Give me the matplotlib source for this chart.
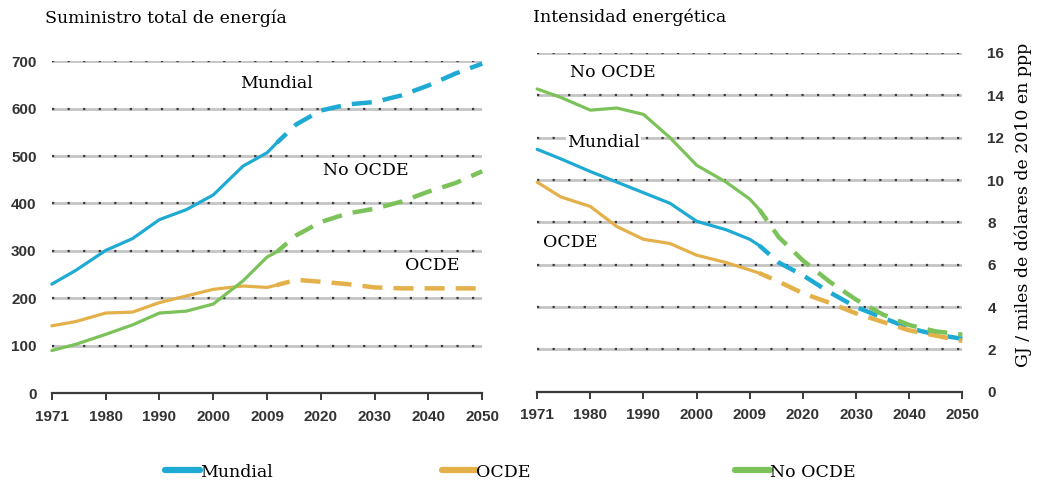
import numpy as np
import matplotlib
matplotlib.use("Agg")
import matplotlib.pyplot as plt
from matplotlib.lines import Line2D

# x axis is categorical: equally spaced labels
tick_years = [1971, 1980, 1990, 2000, 2009, 2020, 2030, 2040, 2050]
tick_labels = [str(y) for y in tick_years]

hist_years = [1971, 1975, 1980, 1985, 1990, 1995, 2000, 2005, 2009, 2011]
proj_years = [2011, 2015, 2020, 2025, 2030, 2035, 2040, 2045, 2050]

# Suministro total de energia
supply_mundial_hist = [230, 259, 301, 326, 366, 387, 418, 479, 507, 528]
supply_mundial_proj = [528, 567, 596, 609, 614, 628, 649, 674, 695]
supply_ocde_hist = [142, 151, 169, 171, 191, 205, 219, 226, 223, 228]
supply_ocde_proj = [228, 239, 235, 230, 223, 221, 221, 221, 221]
supply_nocde_hist = [90, 103, 124, 144, 169, 173, 188, 237, 287, 298]
supply_nocde_proj = [298, 333, 361, 379, 389, 404, 425, 443, 468]

# Intensidad energetica
int_mundial_hist = [11.45, 11.0, 10.4, 9.9, 9.4, 8.9, 8.05, 7.65, 7.2, 6.9]
int_mundial_proj = [6.9, 6.1, 5.5, 4.7, 4.0, 3.5, 3.0, 2.7, 2.5]
int_ocde_hist = [9.9, 9.2, 8.75, 7.8, 7.2, 7.0, 6.45, 6.1, 5.75, 5.6]
int_ocde_proj = [5.6, 5.2, 4.65, 4.2, 3.7, 3.3, 2.9, 2.65, 2.4]
int_nocde_hist = [14.3, 13.9, 13.3, 13.4, 13.1, 12.0, 10.7, 9.9, 9.1, 8.6]
int_nocde_proj = [8.6, 7.3, 6.2, 5.2, 4.35, 3.65, 3.15, 2.85, 2.7]

series_names = ["Mundial", "OCDE", "No OCDE"]
colors = {"Mundial": "#1eaad3", "OCDE": "#e4b049", "No OCDE": "#7cc25a"}

serif = ["DejaVu Serif"]
digits = ["Liberation Sans", "DejaVu Sans"]


def to_pos(years):
    return np.interp(years, tick_years, np.arange(len(tick_years)))


def style_axis(ax, ymax, ystep, right=False):
    ax.set_xlim(0, len(tick_years) - 1)
    ax.set_ylim(0, ymax)
    for s in ["top", "left", "right"]:
        ax.spines[s].set_visible(False)
    ax.spines["bottom"].set_color("#3a3a3a")
    ax.spines["bottom"].set_linewidth(1.6)
    for yv in np.arange(ystep, ymax + ystep / 2, ystep):
        ax.axhline(yv, color="#c4c4c4", lw=2.0, zorder=1)
        ax.axhline(yv, color="#3c3c3c", lw=1.6, ls=(0, (1, 6)), zorder=1)
    ax.set_xticks(range(len(tick_years)))
    ax.set_xticklabels(tick_labels, family=digits, fontsize=11,
                       fontweight="bold", color="#333333")
    ax.tick_params(axis="x", direction="out", length=5, width=1.4,
                   color="#3a3a3a", pad=7)
    yt = np.arange(0, ymax + ystep / 2, ystep)
    ax.set_yticks(yt)
    ax.set_yticklabels([str(int(v)) for v in yt], family=digits, fontsize=11,
                       fontweight="bold", color="#333333")
    if right:
        ax.yaxis.tick_right()
        ax.tick_params(axis="y", length=0, pad=18)
    else:
        ax.tick_params(axis="y", length=0, pad=11)


def draw(ax, hist, proj):
    for name in series_names:
        ax.plot(to_pos(hist_years), hist[name], color=colors[name], lw=2.3,
                solid_capstyle="round", zorder=3, clip_on=False)
        ax.plot(to_pos(proj_years), proj[name], color=colors[name], lw=3.2,
                ls=(1.5, (4.5, 2.5)), zorder=3, clip_on=False)


fig = plt.figure(figsize=(10.37, 4.86), dpi=100)

ax1 = fig.add_axes([0.050, 0.191, 0.415, 0.683])
style_axis(ax1, 700, 100)
draw(ax1,
     {"Mundial": supply_mundial_hist, "OCDE": supply_ocde_hist, "No OCDE": supply_nocde_hist},
     {"Mundial": supply_mundial_proj, "OCDE": supply_ocde_proj, "No OCDE": supply_nocde_proj})
ax1.text(0.437, 0.934, "Mundial", transform=ax1.transAxes, family=serif,
         fontsize=12.5, va="center", ha="left", zorder=5)
ax1.text(0.630, 0.672, "No OCDE", transform=ax1.transAxes, family=serif,
         fontsize=12.5, va="center", ha="left", zorder=5)
ax1.text(0.821, 0.386, "OCDE", transform=ax1.transAxes, family=serif,
         fontsize=12.5, va="center", ha="left", zorder=5)

ax2 = fig.add_axes([0.518, 0.194, 0.410, 0.697])
style_axis(ax2, 16, 2, right=True)
draw(ax2,
     {"Mundial": int_mundial_hist, "OCDE": int_ocde_hist, "No OCDE": int_nocde_hist},
     {"Mundial": int_mundial_proj, "OCDE": int_ocde_proj, "No OCDE": int_nocde_proj})
ax2.text(0.078, 0.941, "No OCDE", transform=ax2.transAxes, family=serif,
         fontsize=12.5, va="center", ha="left", zorder=5)
ax2.text(0.071, 0.735, "Mundial", transform=ax2.transAxes, family=serif,
         fontsize=12.5, va="center", ha="left", zorder=5,
         bbox=dict(facecolor="white", edgecolor="none", pad=1))
ax2.text(0.014, 0.440, "OCDE", transform=ax2.transAxes, family=serif,
         fontsize=12.5, va="center", ha="left", zorder=5)

fig.text(0.043, 0.963, "Suministro total de energía", family=serif,
         fontsize=12.5, va="center", ha="left")
fig.text(0.514, 0.965, "Intensidad energética", family=serif,
         fontsize=12.5, va="center", ha="left")
fig.text(0.987, 0.578, "GJ / miles de dólares de 2010 en ppp", family=serif,
         fontsize=12.5, va="center", ha="center", rotation=90)

# legend items spread along the bottom
legend_x = {"Mundial": 0.159, "OCDE": 0.426, "No OCDE": 0.709}
for name in series_names:
    h = Line2D([], [], color=colors[name], lw=4.5, solid_capstyle="round")
    fig.legend([h], [name], loc="center left",
               bbox_to_anchor=(legend_x[name], 1 - 472 / 486),
               frameon=False, handlelength=2.0, handletextpad=0.0,
               borderpad=0, borderaxespad=0,
               prop={"family": serif, "size": 12.5})

fig.savefig("out.png", dpi=100)
